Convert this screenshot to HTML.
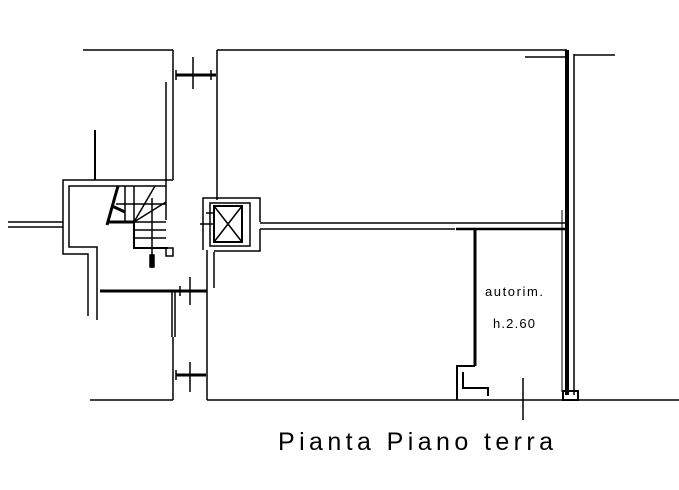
<!DOCTYPE html>
<html><head><style>
html,body{margin:0;padding:0;background:#fff;}
svg{display:block;}
text{font-family:"Liberation Sans",sans-serif;fill:#000;}
</style></head><body>
<svg width="679" height="490" viewBox="0 0 679 490" xmlns="http://www.w3.org/2000/svg">
<g stroke="#000" fill="none" stroke-width="1.5">
<line x1="83" y1="50" x2="173" y2="50"/>
<line x1="217" y1="50" x2="567" y2="50"/>
<line x1="173" y1="50" x2="173" y2="180"/>
<line x1="166" y1="82" x2="166" y2="220"/>
<line x1="217" y1="50" x2="217" y2="200"/>
<line x1="176" y1="75" x2="216" y2="75" stroke-width="3"/>
<line x1="193" y1="57" x2="193" y2="89"/>
<line x1="176" y1="70" x2="176" y2="80"/>
<line x1="211" y1="70" x2="211" y2="80"/>
<polyline points="173,180 63,180 63,254 88,254 88,316"/>
<polyline points="166,186 69,186 69,247 97,247 97,320"/>
<line x1="95" y1="130" x2="95" y2="180" stroke-width="2"/>
<line x1="8" y1="222" x2="63" y2="222"/>
<line x1="8" y1="227" x2="63" y2="227"/>
<line x1="118" y1="186" x2="107" y2="225" stroke-width="3"/>
<line x1="112" y1="206" x2="125" y2="212" stroke-width="3"/>
<line x1="107" y1="222" x2="134" y2="222" stroke-width="3"/>
<polyline points="134,222 134,248 168,248" stroke-width="2"/>
<line x1="125" y1="186" x2="125" y2="222"/>
<line x1="134" y1="186" x2="134" y2="222"/>
<line x1="116" y1="204" x2="166" y2="204"/>
<line x1="134" y1="222" x2="155" y2="186"/>
<line x1="134" y1="222" x2="166" y2="202"/>
<line x1="134" y1="222" x2="166" y2="222"/>
<line x1="134" y1="230" x2="166" y2="230"/>
<line x1="134" y1="238" x2="166" y2="238"/>
<line x1="152" y1="198" x2="152" y2="268"/>
<rect x="150" y="255" width="4" height="12" fill="#000"/>
<rect x="166" y="248" width="7" height="8"/>
<line x1="100" y1="291" x2="207" y2="291" stroke-width="3"/>
<line x1="190" y1="277" x2="190" y2="305"/>
<line x1="180" y1="286" x2="180" y2="296"/>
<line x1="172" y1="292" x2="172" y2="337"/>
<line x1="175" y1="292" x2="175" y2="337"/>
<line x1="173" y1="337" x2="173" y2="400"/>
<line x1="207" y1="250" x2="207" y2="400"/>
<line x1="214" y1="252" x2="214" y2="288"/>
<line x1="176" y1="375" x2="206" y2="375" stroke-width="3"/>
<line x1="190" y1="362" x2="190" y2="392"/>
<line x1="176" y1="370" x2="176" y2="380"/>
<line x1="90" y1="400" x2="173" y2="400"/>
<line x1="207" y1="400" x2="679" y2="400"/>
<polyline points="203,250 203,198 260,198 260,222"/>
<polyline points="260,229 260,251 214,251"/>
<rect x="210" y="203" width="40" height="43"/>
<rect x="214" y="206" width="28" height="36" stroke-width="2"/>
<line x1="214" y1="206" x2="242" y2="242"/>
<line x1="242" y1="206" x2="214" y2="242"/>
<line x1="200" y1="224" x2="214" y2="224"/>
<line x1="206" y1="213" x2="214" y2="213"/>
<line x1="260" y1="223" x2="567" y2="223"/>
<line x1="260" y1="229" x2="455" y2="229"/>
<line x1="456" y1="229" x2="565" y2="229" stroke-width="2.5"/>
<line x1="475" y1="229" x2="475" y2="366" stroke-width="3"/>
<polyline points="475,366 457,366 457,400" stroke-width="2"/>
<polyline points="463,372 463,388 488,388 488,396" stroke-width="2"/>
<line x1="523" y1="378" x2="523" y2="420"/>
<line x1="567" y1="50" x2="567" y2="395" stroke-width="4"/>
<line x1="562" y1="210" x2="562" y2="392" stroke-width="1"/>
<line x1="574" y1="54" x2="574" y2="395"/>
<line x1="574" y1="55" x2="615" y2="55"/>
<line x1="525" y1="57" x2="567" y2="57"/>
<rect x="563" y="391" width="15" height="9" stroke-width="2"/>
</g>
<text x="485" y="296" font-size="13" textLength="58" lengthAdjust="spacing">autorim.</text>
<text x="493" y="328" font-size="13" textLength="42" lengthAdjust="spacing">h.2.60</text>
<text x="278" y="450" font-size="25" textLength="275" lengthAdjust="spacing">Pianta Piano terra</text>
</svg>
</body></html>
